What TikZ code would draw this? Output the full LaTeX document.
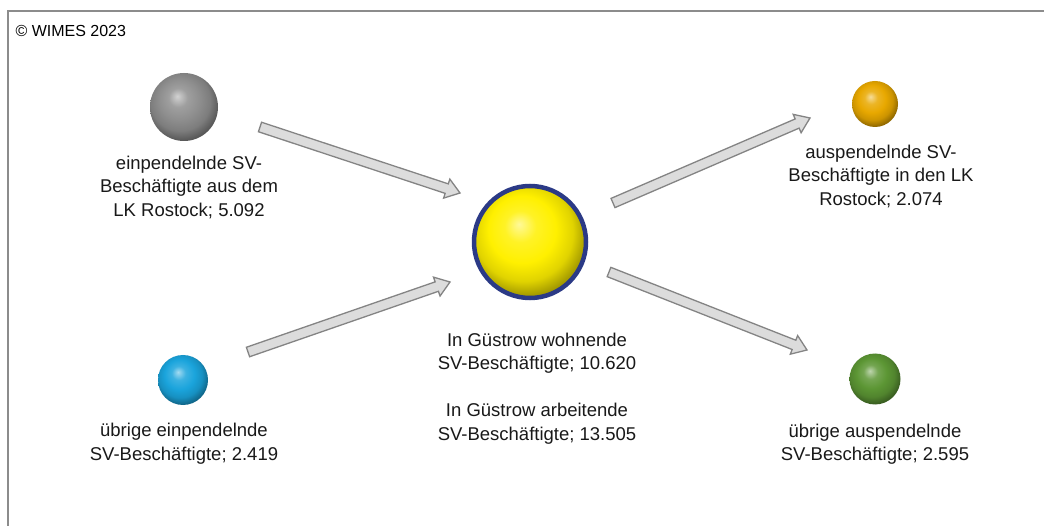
\documentclass[tikz,border=0pt]{standalone}
\usepackage{fontspec}
\setmainfont{Liberation Sans}
\usetikzlibrary{calc}
\definecolor{framegray}{HTML}{8C8C8C}
\definecolor{arrowfill}{HTML}{DCDCDC}
\definecolor{arrowline}{HTML}{848484}
\definecolor{ringblue}{HTML}{2B3A86}
\definecolor{ballyellow}{HTML}{FFF000}
\definecolor{ballorange}{HTML}{E8A800}
\definecolor{ballblue}{HTML}{1AA4DC}
\definecolor{ballgreen}{HTML}{5C9634}
\definecolor{ballgray}{HTML}{8E8E8E}
% a gentler sphere shading than the standard ball
\makeatletter
\pgfdeclareradialshading[tikz@ball]{softball}{\pgfqpoint{-5bp}{8bp}}{%
  color(0bp)=(tikz@ball!40!white); color(7bp)=(tikz@ball!85!white);
  color(15bp)=(tikz@ball); color(22bp)=(tikz@ball!88!black);
  color(28bp)=(tikz@ball!62!black); color(50bp)=(tikz@ball!45!black)}
\makeatother
\tikzset{
  sphere/.style={circle, inner sep=0pt, ball color=#1, shading=softball},
  label text/.style={align=center, text=black!90,
    font=\fontsize{18.5}{23.5}\selectfont},
  blockarrow/.style={fill=arrowfill, draw=arrowline, line width=1.3pt, line join=miter},
}
% block arrow between two named coordinates: #1 = tail, #2 = tip
\newcommand{\blockarrow}[2]{%
  \coordinate (#2-base) at ($(#2)!14pt!(#1)$);
  \draw[blockarrow]
    ($(#1)!5pt!90:(#2)$) -- ($(#2-base)!5pt!90:(#2)$) -- ($(#2-base)!10pt!90:(#2)$)
    -- (#2) -- ($(#2-base)!10pt!-90:(#2)$) -- ($(#2-base)!5pt!-90:(#2)$)
    -- ($(#1)!5pt!-90:(#2)$) -- cycle;}
\begin{document}
\begin{tikzpicture}[x=1pt, y=-1pt]
  \useasboundingbox (0,0) rectangle (1044,526);
  \fill[white] (0,0) rectangle (1044,526);

  % frame
  \draw[framegray, line width=1.2pt] (8,526) -- (8,11) -- (1044,11);
  \node[anchor=west, font=\fontsize{16}{19}\selectfont] (copy) at (12,31) {© WIMES 2023};

  % spheres
  \node[sphere=ballgray, minimum size=68pt] (ein) at (184,107) {};
  \node[sphere=ballblue, minimum size=50pt] (uebein) at (183,380) {};
  \node[sphere=ballyellow, minimum size=112pt, draw=ringblue, line width=4.5pt] (gue) at (530,242) {};
  \node[sphere=ballorange, minimum size=46pt] (aus) at (875,104) {};
  \node[sphere=ballgreen, minimum size=51pt] (uebaus) at (875,379) {};

  % labels
  \node[label text] (einL) at (189,187) {einpendelnde SV-\\Beschäftigte aus dem\\LK Rostock; 5.092};
  \node[label text] (uebeinL) at (184,443.5) {übrige einpendelnde\\SV-Beschäftigte; 2.419};
  \node[label text] (gueL) at (537,388.5) {In Güstrow wohnende\\SV-Beschäftigte; 10.620\\[23.5pt]In Güstrow arbeitende\\SV-Beschäftigte; 13.505};
  \node[label text] (ausL) at (881,176) {auspendelnde SV-\\Beschäftigte in den LK\\Rostock; 2.074};
  \node[label text] (uebausL) at (875,444) {übrige auspendelnde\\SV-Beschäftigte; 2.595};

  % arrow end points
  \coordinate (a1) at (260,127);  \coordinate (b1) at (460,193);
  \coordinate (a2) at (248,352);  \coordinate (b2) at (450,282);
  \coordinate (a3) at (613,203);  \coordinate (b3) at (810,118);
  \coordinate (a4) at (609,272);  \coordinate (b4) at (807,350);

  \blockarrow{a1}{b1}
  \blockarrow{a2}{b2}
  \blockarrow{a3}{b3}
  \blockarrow{a4}{b4}
\end{tikzpicture}
\end{document}
